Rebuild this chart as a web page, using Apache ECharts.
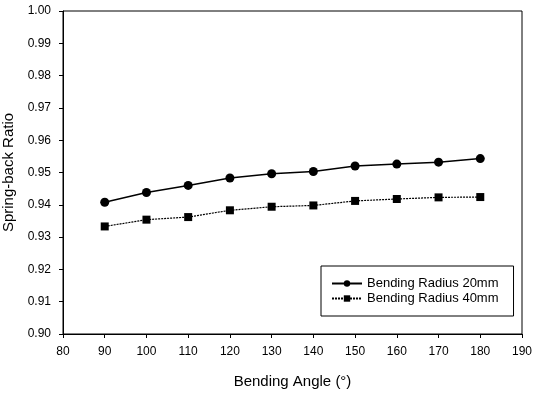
<!DOCTYPE html>
<html>
<head>
<meta charset="utf-8">
<script src="https://cdn.jsdelivr.net/npm/echarts@6/dist/echarts.min.js"></script>
<style>
html, body { margin: 0; padding: 0; background: #fff; }
#main { width: 535px; height: 393px; }
</style>
</head>
<body>
<div id="main"></div>
<script>
// 数据
var angles = [90, 100, 110, 120, 130, 140, 150, 160, 170, 180];
var radius20 = [0.9408, 0.9438, 0.9460, 0.9483, 0.9496, 0.9503, 0.9520, 0.9526, 0.9532, 0.9543];
var radius40 = [0.9333, 0.9354, 0.9362, 0.9383, 0.9394, 0.9398, 0.9412, 0.9418, 0.9423, 0.9424];
var seriesNames = ['Bending Radius 20mm', 'Bending Radius 40mm'];

function pairs(xs, ys) {
	return xs.map(function(x, i) { return [x, ys[i]]; });
}

var font = 'Liberation Sans, Arial, sans-serif';
var chart = echarts.init(document.getElementById('main'));
var option = {
	animation: false,
	backgroundColor: '#fff',
	grid: {
		left: 63, right: 13, top: 11, bottom: 59,
		outerBoundsMode: 'none',
		containLabel: false,
		show: true, borderColor: '#000', borderWidth: 1
	},
	legend: {
		orient: 'vertical',
		left: 321, top: 266,
		padding: [10, 15, 10, 10],
		itemGap: 0,
		itemWidth: 30, itemHeight: 8,
		borderColor: '#000', borderWidth: 1,
		textStyle: { fontFamily: font, fontSize: 13, lineHeight: 15, color: '#000' },
		data: seriesNames
	},
	xAxis: {
		type: 'value',
		min: 80, max: 190, interval: 10,
		name: 'Bending Angle (°)',
		nameLocation: 'middle', nameGap: 40,
		nameTextStyle: { fontFamily: font, fontSize: 15, color: '#000' },
		axisLine: { lineStyle: { color: '#000', width: 1 } },
		axisTick: { show: true, length: 4, lineStyle: { color: '#000' } },
		axisLabel: { fontFamily: font, fontSize: 12, color: '#000', margin: 12 },
		splitLine: { show: false }
	},
	yAxis: {
		type: 'value',
		min: 0.90, max: 1.00, interval: 0.01,
		name: 'Spring-back Ratio',
		nameLocation: 'middle', nameGap: 41,
		nameTextStyle: { fontFamily: font, fontSize: 15, color: '#000' },
		axisLine: { show: true, lineStyle: { color: '#000', width: 1 } },
		axisTick: { show: true, length: 4, lineStyle: { color: '#000' } },
		axisLabel: {
			fontFamily: font, fontSize: 12, color: '#000', margin: 12,
			formatter: function(v) { return v.toFixed(2); }
		},
		splitLine: { show: false }
	},
	series: [{
		name: seriesNames[0],
		type: 'line',
		data: pairs(angles, radius20),
		symbol: 'circle', symbolSize: 9,
		itemStyle: { color: '#000' },
		lineStyle: { color: '#000', width: 1.5, type: 'solid' }
	}, {
		name: seriesNames[1],
		type: 'line',
		data: pairs(angles, radius40),
		symbol: 'rect', symbolSize: 8,
		itemStyle: { color: '#000' },
		lineStyle: { color: '#000', width: 1.2, type: [2, 1] }
	}]
};
chart.setOption(option);
</script>
</body>
</html>
